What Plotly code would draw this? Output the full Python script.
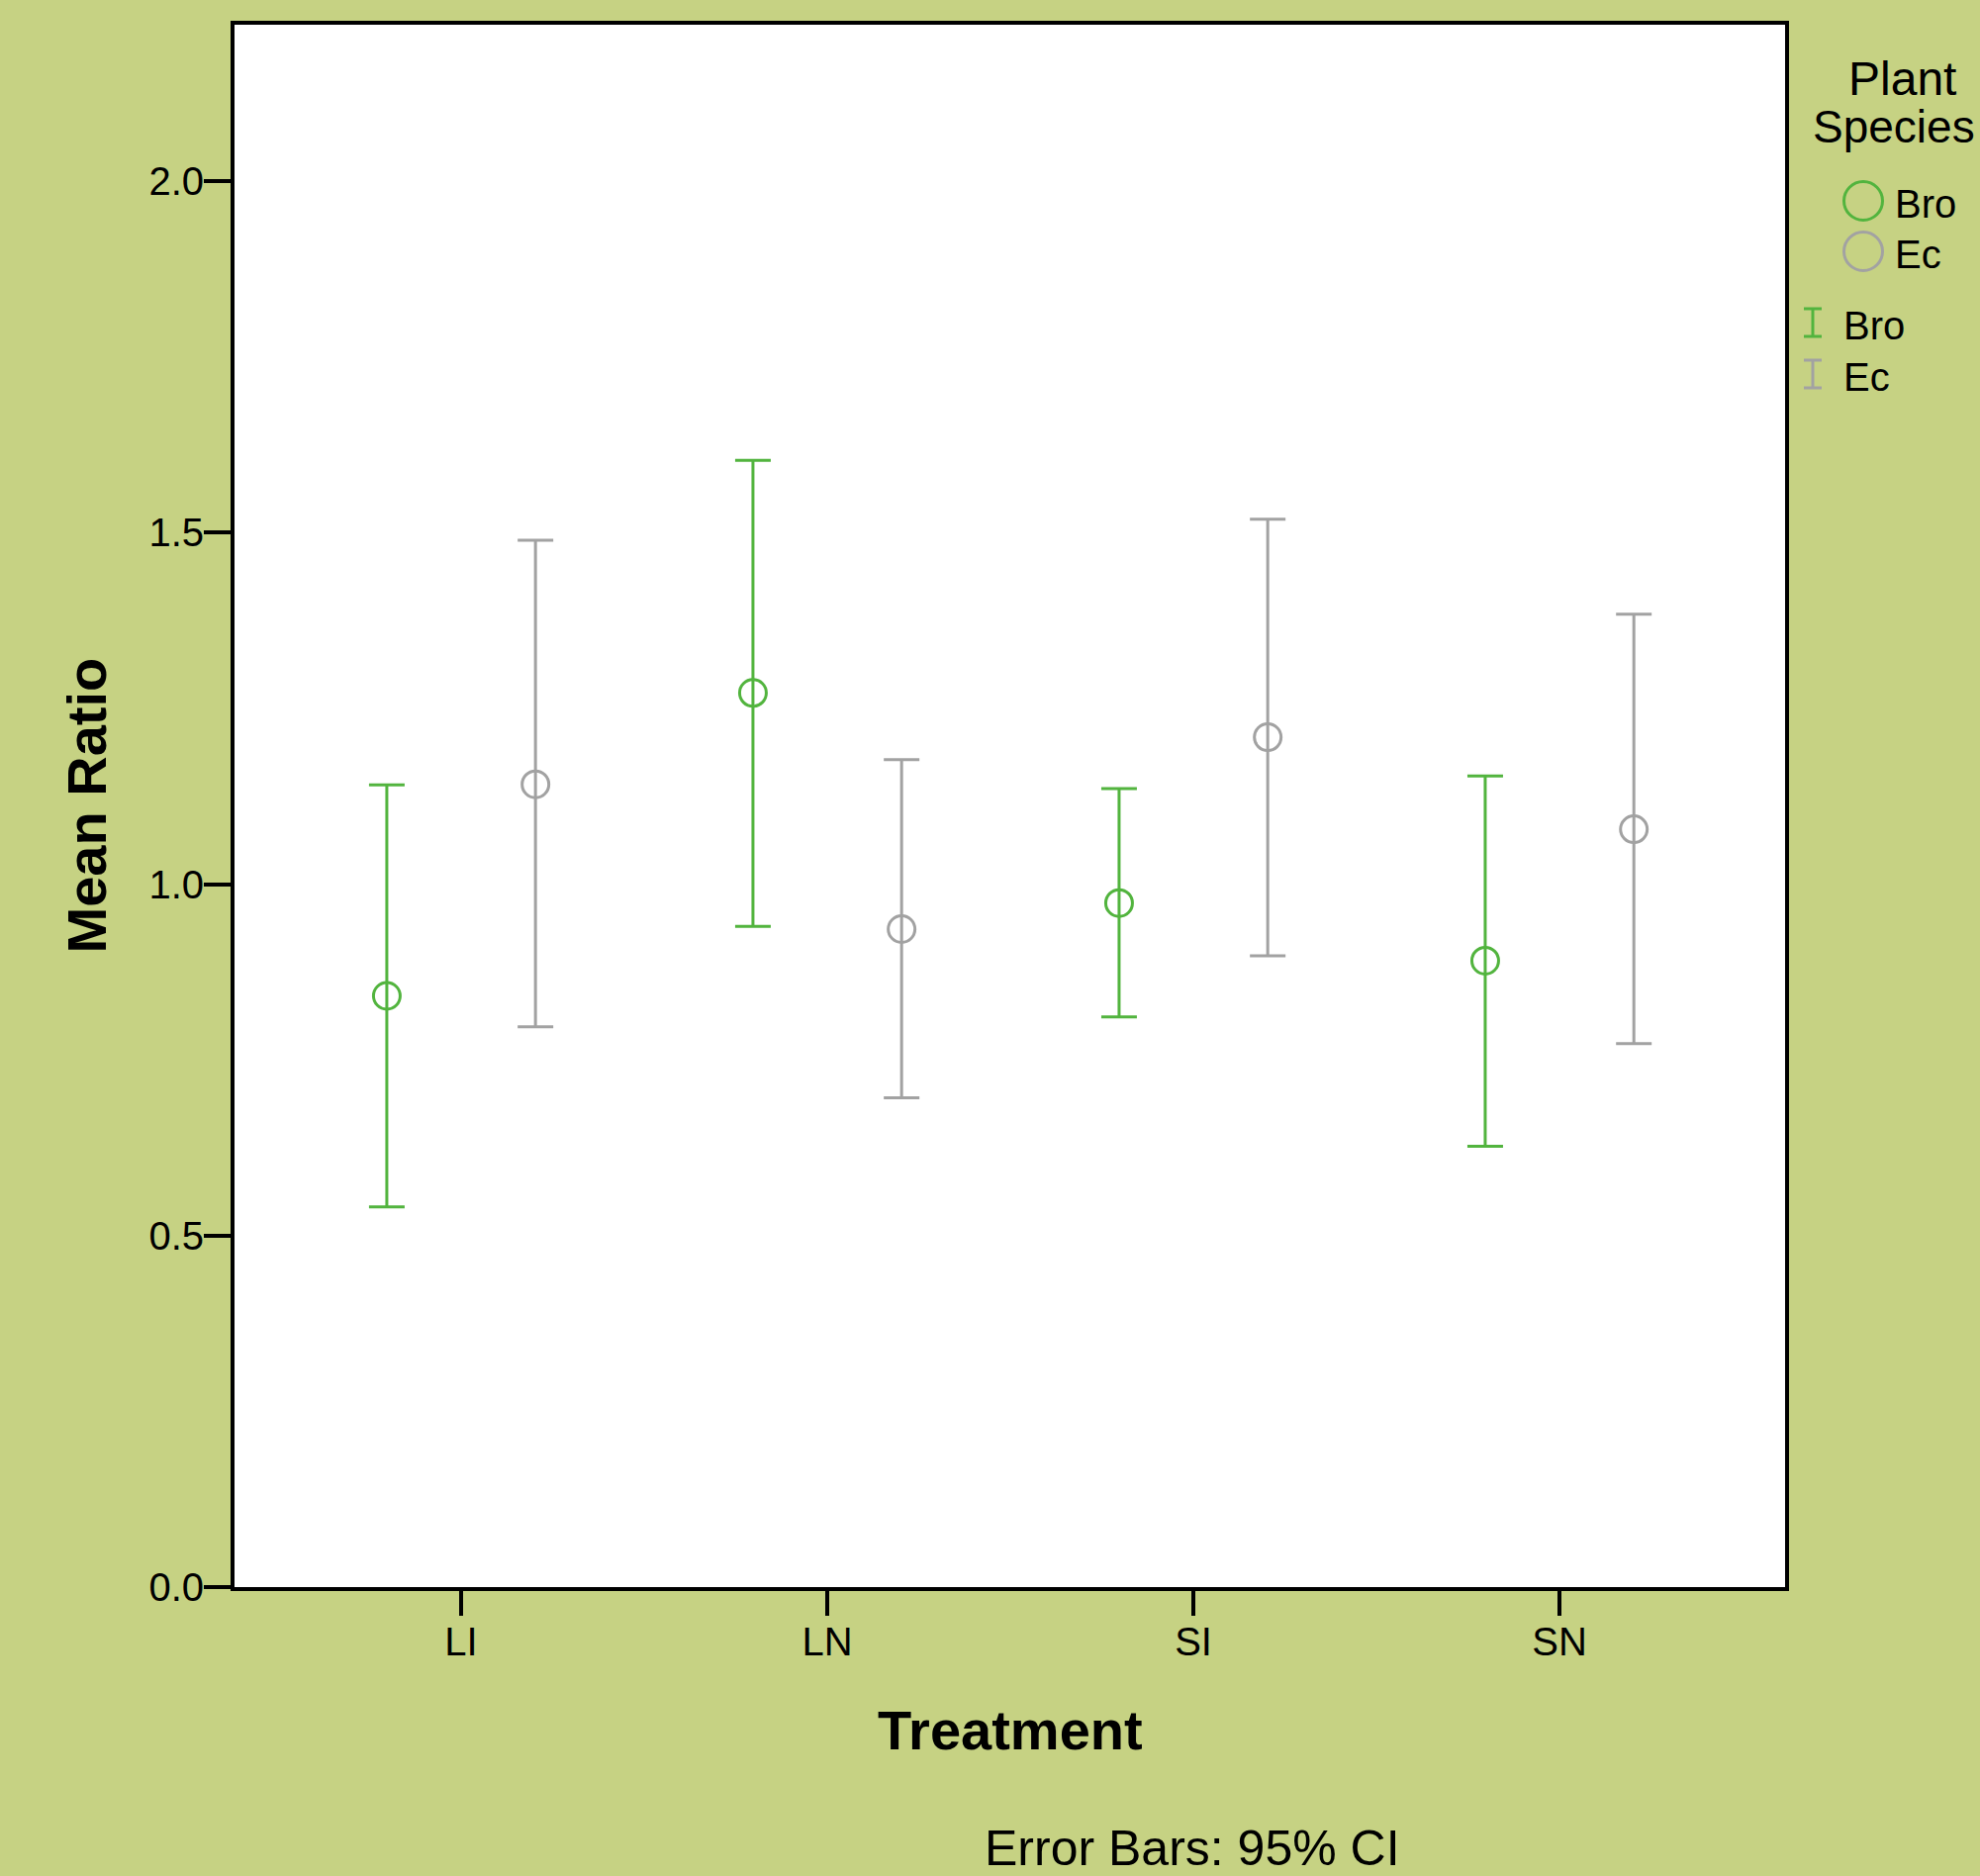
import numpy as np
import plotly.graph_objects as go

# ---- data ----
categories = ["LI", "LN", "SI", "SN"]
species = ["Bro", "Ec"]
bro_mean = [0.841, 1.272, 0.973, 0.891]
bro_upper = [1.141, 1.603, 1.136, 1.154]
bro_lower = [0.541, 0.940, 0.811, 0.627]
ec_mean = [1.142, 0.936, 1.209, 1.078]
ec_upper = [1.489, 1.177, 1.519, 1.384]
ec_lower = [0.797, 0.696, 0.898, 0.773]
y_ticks = [0.0, 0.5, 1.0, 1.5, 2.0]

GREEN = "#52b43e"
GRAY = "#a2a2a2"
BG = "#c6d283"
FONT = "Liberation Sans, Arial, Helvetica, sans-serif"

W, H = 2001, 1896
L, R, T, B = 237, 197, 25, 292
PW, PH = W - L - R, H - T - B

pos = np.arange(len(categories))
offset = 0.203

fig = go.Figure()
series = [
    (species[0], bro_mean, bro_upper, bro_lower, GREEN, -offset),
    (species[1], ec_mean, ec_upper, ec_lower, GRAY, offset),
]
for name, m, up, lo, col, off in series:
    m = np.array(m); up = np.array(up); lo = np.array(lo)
    fig.add_trace(go.Scatter(
        x=pos + off, y=m, mode="markers", name=name, showlegend=False,
        marker=dict(symbol="circle-open", size=27, color=col,
                    line=dict(width=3, color=col)),
        error_y=dict(type="data", symmetric=False, array=up - m,
                     arrayminus=m - lo, color=col, thickness=3, width=18),
    ))

# ---- custom legend (paper coordinates from pixel layout) ----
def px(xp):
    return (xp - L) / PW

def py(yp):
    return (H - B - yp) / PH

ann = []
shapes = []
ann.append(dict(text="Plant", x=px(1922), y=py(80), xref="paper", yref="paper",
                showarrow=False, xanchor="center", yanchor="middle",
                font=dict(size=48, color="black", family=FONT)))
ann.append(dict(text="Species", x=px(1914), y=py(128), xref="paper", yref="paper",
                showarrow=False, xanchor="center", yanchor="middle",
                font=dict(size=46, color="black", family=FONT)))
for i, (name, col) in enumerate(zip(species, [GREEN, GRAY])):
    cy = 203 + i * 51
    shapes.append(dict(type="circle", xref="paper", yref="paper",
                       xsizemode="pixel", ysizemode="pixel",
                       xanchor=px(1883), yanchor=py(cy),
                       x0=-19.5, x1=19.5, y0=-19.5, y1=19.5,
                       line=dict(color=col, width=3)))
    ann.append(dict(text=name, x=px(1913), y=py(cy + 3), xref="paper", yref="paper",
                    showarrow=False, xanchor="left", yanchor="middle",
                    font=dict(size=40, color="black", family=FONT)))
for i, (name, col) in enumerate(zip(species, [GREEN, GRAY])):
    top = 312 + i * 52
    bot = top + 28
    xc = 1832
    for seg in [(xc, top, xc, bot), (xc - 9, top, xc + 9, top), (xc - 9, bot, xc + 9, bot)]:
        shapes.append(dict(type="line", xref="paper", yref="paper",
                           x0=px(seg[0]), y0=py(seg[1]), x1=px(seg[2]), y1=py(seg[3]),
                           line=dict(color=col, width=3)))
    ann.append(dict(text=name, x=px(1861), y=py(top + 17), xref="paper", yref="paper",
                    showarrow=False, xanchor="left", yanchor="middle",
                    font=dict(size=40, color="black", family=FONT)))

# axis titles & footnote
ann.append(dict(text="<b>Mean Ratio</b>", x=px(87), y=0.5, xref="paper", yref="paper",
                showarrow=False, textangle=-90, xanchor="center", yanchor="middle",
                font=dict(size=56, color="black", family=FONT)))
ann.append(dict(text="<b>Treatment</b>", x=0.5, y=py(1748), xref="paper", yref="paper",
                showarrow=False, xanchor="center", yanchor="middle",
                font=dict(size=56, color="black", family=FONT)))
ann.append(dict(text="Error Bars: 95% CI", x=px(1205), y=py(1868), xref="paper", yref="paper",
                showarrow=False, xanchor="center", yanchor="middle",
                font=dict(size=50, color="black", family=FONT)))

fig.update_layout(
    width=W, height=H,
    margin=dict(l=L, r=R, t=T, b=B, pad=0),
    paper_bgcolor=BG, plot_bgcolor="white",
    font=dict(family=FONT, color="black"),
    showlegend=False,
    annotations=ann, shapes=shapes,
    xaxis=dict(range=[-0.619, 3.616], tickvals=list(pos), ticktext=categories,
               ticks="outside", ticklen=25, tickwidth=4, tickcolor="black",
               ticklabelstandoff=-8,
               showline=True, linecolor="black", linewidth=4, mirror=True,
               showgrid=False, zeroline=False,
               tickfont=dict(size=40, color="black", family=FONT)),
    yaxis=dict(range=[0, 2.2225], tickvals=y_ticks,
               ticktext=[f"{v:.1f}" for v in y_ticks],
               ticks="outside", ticklen=27, tickwidth=4, tickcolor="black",
               ticklabelstandoff=-8,
               showline=True, linecolor="black", linewidth=4, mirror=True,
               showgrid=False, zeroline=False,
               tickfont=dict(size=40, color="black", family=FONT)),
)

fig.write_html(
    "out.html",
    config={"displayModeBar": False},
    post_script="document.body.style.margin='0';document.body.style.padding='0';"
                "document.body.style.overflow='hidden';",
)
